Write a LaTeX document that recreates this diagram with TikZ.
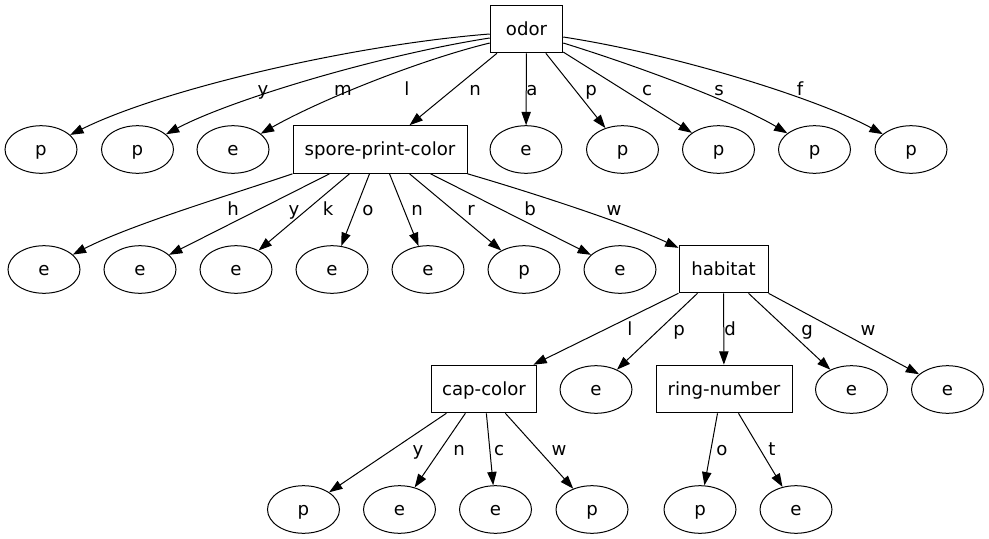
\documentclass[tikz,border=0pt]{standalone}
\usepackage{fontspec}
\setmainfont{DejaVu Sans}
\usetikzlibrary{shapes.geometric,arrows.meta,calc}
\tikzset{
  base/.style={font=\fontsize{13.6}{16}\selectfont, text height=10pt, text depth=1pt, inner sep=0pt, line width=0.75pt},
  leaf/.style={base, draw, ellipse, minimum width=54pt, minimum height=35.7pt},
  test/.style={base, draw, rectangle, minimum height=35.7pt},
  lbl/.style={font=\fontsize{13.6}{16}\selectfont, inner sep=0pt, anchor=base},
  edge/.style={line width=0.75pt, -{Triangle[length=10pt,width=7pt]}}
}
\begin{document}
\begin{tikzpicture}[x=0.75pt,y=-0.75pt]
\useasboundingbox (0,0) rectangle (989,539);
% nodes
\node[test, minimum width=54.4pt] (odor) at (526.5,29) {odor};
\node[leaf] (p1) at (41,149.5) {p};
\node[leaf] (p2) at (137.5,149.5) {p};
\node[leaf] (e3) at (233,149.5) {e};
\node[test, minimum width=130.5pt] (spc) at (380,149.5) {spore-print-color};
\node[leaf] (ea) at (526,149.5) {e};
\node[leaf] (pp) at (622.5,149.5) {p};
\node[leaf] (pc) at (718.5,149.5) {p};
\node[leaf] (ps) at (814.5,149.5) {p};
\node[leaf] (pf) at (911,149.5) {p};
\node[leaf] (sh) at (44,269.5) {e};
\node[leaf] (sy) at (140,269.5) {e};
\node[leaf] (sk) at (236,269.5) {e};
\node[leaf] (so) at (332,269.5) {e};
\node[leaf] (sn) at (428,269.5) {e};
\node[leaf] (sr) at (524,269.5) {p};
\node[leaf] (sb) at (620,269.5) {e};
\node[test, minimum width=66.75pt] (hab) at (723.5,269) {habitat};
\node[test, minimum width=78.2pt] (cap) at (484,389) {cap-color};
\node[leaf] (hp) at (596,389.5) {e};
\node[test, minimum width=102pt] (ring) at (724,389) {ring-number};
\node[leaf] (hg) at (851.5,389.5) {e};
\node[leaf] (hw) at (947.5,389.5) {e};
\node[leaf] (cy) at (303.5,509.5) {p};
\node[leaf] (cn) at (399.5,509.5) {e};
\node[leaf] (cc) at (495.5,509.5) {e};
\node[leaf] (cw) at (592,509.5) {p};
\node[leaf] (ro) at (700,509.5) {p};
\node[leaf] (rt) at (796,509.5) {e};
% edges from odor
\draw[edge] ($(odor.west)+(0,5)$) .. controls (350,45) and (160,90) .. (p1);
\draw[edge] ($(odor.west)+(0,9)$) .. controls (380,55) and (230,100) .. (p2);
\draw[edge] ($(odor.west)+(0,14)$) .. controls (420,60) and (320,100) .. (e3);
\draw[edge] (odor) -- (spc);
\draw[edge] (odor) -- (ea);
\draw[edge] (odor) -- (pp);
\draw[edge] (odor) -- (pc);
\draw[edge] ($(odor.east)+(0,14)$) .. controls (650,70) and (740,105) .. (ps);
\draw[edge] ($(odor.east)+(0,8)$) .. controls (680,55) and (820,100) .. (pf);
% edges from spore-print-color
\draw[edge] (spc.south west) .. controls (230,195) and (130,225) .. (sh);
\draw[edge] ($(spc.south west)+(37,0)$) -- (sy);
\draw[edge] ($(spc.south west)+(57,0)$) -- (sk);
\draw[edge] ($(spc.south west)+(77,0)$) -- (so);
\draw[edge] ($(spc.south west)+(97,0)$) -- (sn);
\draw[edge] ($(spc.south west)+(117,0)$) -- (sr);
\draw[edge] ($(spc.south west)+(138,0)$) -- (sb);
\draw[edge] (spc.south east) .. controls (540,195) and (630,225) .. (hab);
% edges from habitat
\draw[edge] (hab.south west) -- (cap);
\draw[edge] ($(hab.south west)+(19,0)$) -- (hp);
\draw[edge] (hab) -- (ring);
\draw[edge] ($(hab.south west)+(70,0)$) -- (hg);
\draw[edge] (hab.south east) -- (hw);
% edges from cap-color
\draw[edge] ($(cap.south west)+(15,0)$) -- (cy);
\draw[edge] ($(cap.south west)+(34,0)$) -- (cn);
\draw[edge] ($(cap.south west)+(55,0)$) -- (cc);
\draw[edge] ($(cap.south west)+(74,0)$) -- (cw);
% edges from ring-number
\draw[edge] ($(ring.south west)+(62,0)$) -- (ro);
\draw[edge] ($(ring.south west)+(83,0)$) -- (rt);
% edge labels
\node[lbl] (l1) at (263,95) {y};
\node[lbl] (l2) at (343,95) {m};
\node[lbl] (l3) at (407,95) {l};
\node[lbl] (l4) at (475,95) {n};
\node[lbl] (l5) at (532,95) {a};
\node[lbl] (l6) at (591,95) {p};
\node[lbl] (l7) at (647,95) {c};
\node[lbl] (l8) at (719,95) {s};
\node[lbl] (l9) at (800,95) {f};
\node[lbl] (m1) at (233,215) {h};
\node[lbl] (m2) at (294,215) {y};
\node[lbl] (m3) at (328,215) {k};
\node[lbl] (m4) at (368,215) {o};
\node[lbl] (m5) at (417,215) {n};
\node[lbl] (m6) at (471,215) {r};
\node[lbl] (m7) at (530,215) {b};
\node[lbl] (m8) at (614,215) {w};
\node[lbl] (n1) at (630,335) {l};
\node[lbl] (n2) at (679,335) {p};
\node[lbl] (n3) at (730,335) {d};
\node[lbl] (n4) at (807,335) {g};
\node[lbl] (n5) at (868,335) {w};
\node[lbl] (q1) at (418,455) {y};
\node[lbl] (q2) at (459,455) {n};
\node[lbl] (q3) at (499,455) {c};
\node[lbl] (q4) at (559,455) {w};
\node[lbl] (q5) at (722,455) {o};
\node[lbl] (q6) at (772,455) {t};
\end{tikzpicture}
\end{document}
